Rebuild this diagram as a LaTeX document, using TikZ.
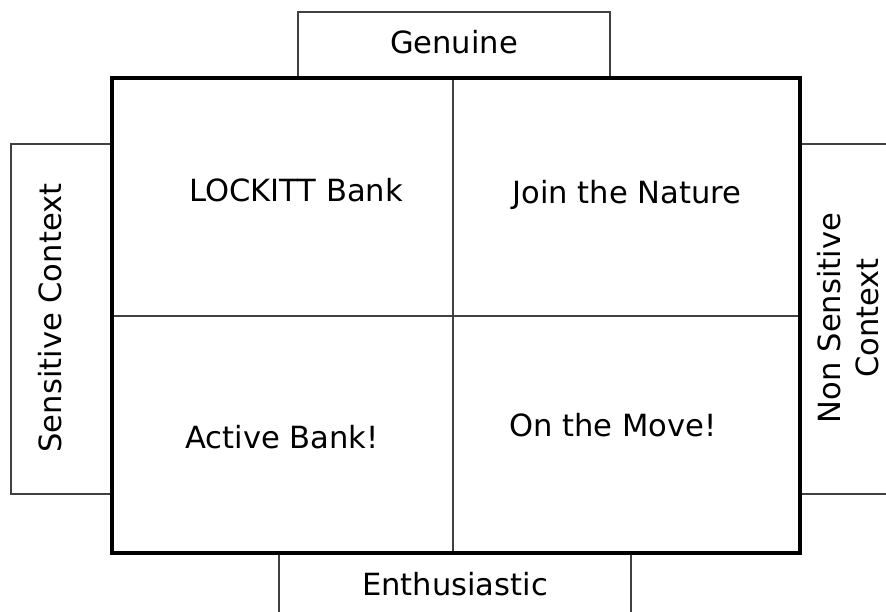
\documentclass[tikz,border=0pt]{standalone}
\usepackage{fontspec}
\setmainfont{DejaVu Sans}

\begin{document}
\begin{tikzpicture}[x=0.02cm,y=-0.02cm,
    thinline/.style={draw=black!75,line width=0.6pt},
    frameline/.style={draw=black,line width=2pt},
    lbl/.style={font=\fontsize{17.4}{22}\selectfont,inner sep=0pt,align=center}]
    \def\xl{112} \def\xm{453} \def\xr{800}
    \def\yt{78} \def\ym{316} \def\yb{553}

    \useasboundingbox (0,0) rectangle (886,612);

    % boxes round the frame
    \draw[thinline] (298,\yt) -- (298,12) -- (610,12) -- (610,\yt);
    \draw[thinline] (279,620) -- (279,\yb);
    \draw[thinline] (631,620) -- (631,\yb);
    \draw[thinline] (\xl,144) -- (11,144) -- (11,494) -- (\xl,494);
    \draw[thinline] (895,144) -- (\xr,144) -- (\xr,494) -- (895,494);

    % quadrants
    \draw[thinline] (\xm,\yt) -- (\xm,\yb);
    \draw[thinline] (\xl,\ym) -- (\xr,\ym);
    \draw[frameline] (\xl,\yt) rectangle (\xr,\yb);

    \node[lbl] (genuine) at (454,42) {Genuine};
    \node[lbl] (enthus) at (455,584) {Enthusiastic};
    \node[lbl,rotate=90] (sens) at (50,318) {Sensitive Context};
    \node[lbl,rotate=90] (nonsens) at (848,318) {Non Sensitive\\Context};

    \node[lbl] (lockitt) at (296,190) {LOCKITT Bank};
    \node[lbl] (nature) at (627,195) {Join the Nature};
    \node[lbl] (active) at (282,437) {Active Bank!};
    \node[lbl] (move) at (613,425) {On the Move!};
\end{tikzpicture}
\end{document}
